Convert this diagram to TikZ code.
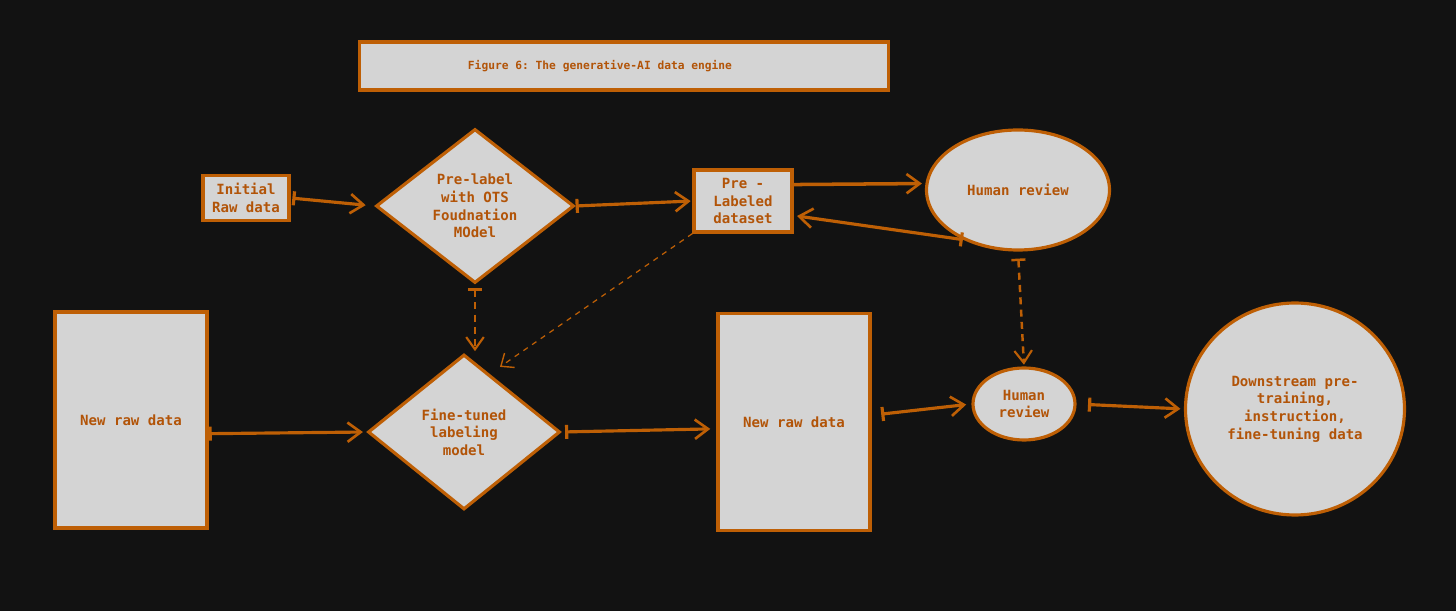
\documentclass[tikz,border=0pt]{standalone}
\usepackage{fontspec}
\setmonofont{DejaVu Sans Mono}
\usepackage{tikz}
\usetikzlibrary{calc,positioning,arrows.meta,shapes.geometric}
\definecolor{EngineBg}{RGB}{18,18,18}
\definecolor{EngineFill}{RGB}{212,212,212}
\definecolor{EngineLine}{RGB}{190,95,5}
\definecolor{EngineText}{RGB}{178,84,8}
\tikzset{
    sketchbox/.style={rectangle,draw=EngineLine,fill=EngineFill,line width=1.8pt,inner sep=0pt,align=center,text=EngineText,font=\ttfamily\bfseries\fontsize{8}{10}\selectfont},
    decision/.style={diamond,draw=EngineLine,fill=EngineFill,line width=1.8pt,inner sep=0pt,align=center,text=EngineText,font=\ttfamily\bfseries\fontsize{8}{10}\selectfont},
    reviewblob/.style={ellipse,draw=EngineLine,fill=EngineFill,line width=1.8pt,inner sep=0pt,align=center,text=EngineText,font=\ttfamily\bfseries\fontsize{8}{10}\selectfont},
    flow/.style={line width=1.8pt,draw=EngineLine,{Bar[width=8pt]}-{Straight Barb[length=7.5pt,width=11pt,line width=1.5pt]}},
    plainflow/.style={line width=2pt,draw=EngineLine,-{Straight Barb[length=7.5pt,width=11pt,line width=1.5pt]}},
    dashflow/.style={line width=1.4pt,draw=EngineLine,dash pattern=on 4pt off 3pt,{Bar[width=8pt]}-{Straight Barb[length=7pt,width=10pt,line width=1.2pt]}},
    thindash/.style={line width=0.7pt,draw=EngineLine,dash pattern=on 3pt off 3pt,-{Straight Barb[length=6pt,width=10pt,line width=0.8pt]}}
}
\begin{document}
\begin{tikzpicture}
    \fill[EngineBg] (0,0) rectangle (29.12,-12.22);
    \useasboundingbox (0,0) rectangle (29.12,-12.22);
    % title
    \node[sketchbox,minimum width=10.58cm,minimum height=0.96cm,font=\ttfamily\bfseries\fontsize{6.4}{8}\selectfont] (title) at (12.48,-1.32) {\hspace*{-0.96cm}Figure 6: The generative-AI data engine};
    % top row
    \node[sketchbox,minimum width=1.72cm,minimum height=0.9cm] (init) at (4.92,-3.96) {Initial\\Raw data};
    \node[decision,minimum width=3.96cm,minimum height=3.08cm] (prelab) at (9.5,-4.12) {Pre-label\\with OTS\\Foudnation\\MOdel};
    \node[sketchbox,minimum width=1.96cm,minimum height=1.24cm] (preset) at (14.86,-4.02) {Pre -\\Labeled\\dataset};
    \node[reviewblob,minimum width=3.66cm,minimum height=2.4cm] (review) at (20.36,-3.8) {Human review};
    % bottom row
    \node[sketchbox,minimum width=3.04cm,minimum height=4.32cm] (rawa) at (2.62,-8.4) {New raw data};
    \node[decision,minimum width=3.84cm,minimum height=3.1cm] (tuned) at (9.28,-8.64) {Fine-tuned\\labeling\\model};
    \node[sketchbox,minimum width=3.04cm,minimum height=4.34cm] (rawb) at (15.88,-8.44) {New raw data};
    \node[reviewblob,minimum width=2.04cm,minimum height=1.44cm] (reviewb) at (20.48,-8.08) {Human\\review};
    \node[reviewblob,minimum width=4.38cm,minimum height=4.24cm] (down) at (25.9,-8.18) {Downstream pre-\\training,\\instruction,\\fine-tuning data};
    % connectors
    \draw[flow,shorten <=1pt,shorten >=5pt] (init.east) -- (prelab.west);
    \draw[flow,shorten >=1pt] (prelab.east) -- (preset.west);
    \draw[plainflow,shorten >=2pt] (preset.18) -- (review.176);
    \draw[flow,shorten >=2pt] (review.222) -- (preset.-16);
    \draw[dashflow,shorten <=4pt,shorten >=1pt] (review.south) -- (reviewb.north);
    \draw[dashflow,shorten <=2pt,shorten >=1pt] (prelab.south) -- (prelab.south |- tuned.north);
    \draw[thindash,shorten >=7pt] (preset.south west) -- (tuned.66);
    \draw[flow,shorten >=2pt] (rawa.-10) -- (tuned.west);
    \draw[flow,shorten <=2pt,shorten >=3.5pt] (tuned.east) -- (rawb.185);
    \draw[flow,shorten <=5.5pt,shorten >=3pt] (rawb.5) -- (reviewb.west);
    \draw[flow,shorten <=6.5pt,shorten >=2pt] (reviewb.east) -- (down.west);
\end{tikzpicture}
\end{document}
